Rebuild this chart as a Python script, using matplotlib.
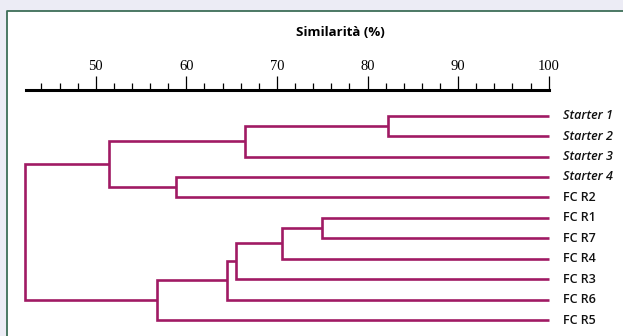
import matplotlib
matplotlib.use('Agg')
import matplotlib.pyplot as plt
from matplotlib.patches import Rectangle
from matplotlib.lines import Line2D
from matplotlib.ticker import MultipleLocator

# ── data ────────────────────────────────────────────────────────────────
leaves = ['Starter 1', 'Starter 2', 'Starter 3', 'Starter 4', 'FC R2',
          'FC R1', 'FC R7', 'FC R4', 'FC R3', 'FC R6', 'FC R5']
italic = [True, True, True, True, False, False, False, False, False, False, False]
# merges: node ids 0-10 are leaves, each merge creates node 11, 12, ...
merge_a = [0, 11, 3, 12, 5, 15, 16, 17, 18, 14]
merge_b = [1, 2, 4, 13, 6, 7, 8, 9, 10, 19]
merge_sim = [82.3, 66.5, 58.9, 51.5, 75.0, 70.6, 65.5, 64.5, 56.8, 42.3]
scale_min, scale_max = 42.3, 100

W, H = 623, 336
BG = '#ECECF5'
PANEL_EC = '#3E6E58'
LINE = '#A01A64'

fig = plt.figure(figsize=(W / 100, H / 100), dpi=100)
fig.patch.set_facecolor(BG)

# white panel, border only on top and left (it runs off right/bottom edge)
px0, py0 = 6.7 / W, (H - 10.7) / H
fig.patches.append(Rectangle((px0, -0.1), 1.2, py0 + 0.1,
                             transform=fig.transFigure, facecolor='white',
                             edgecolor='none', zorder=-5))
fig.lines.append(Line2D([px0, px0, 1.1], [-0.1, py0, py0],
                        transform=fig.transFigure, color=PANEL_EC,
                        lw=1.3, zorder=-4))

# ── scale bar ───────────────────────────────────────────────────────────
px_per = (548.7 - 95.3) / 50.0
sx = fig.add_axes([26 / W, (H - 90.5) / H, (548.7 - 26) / W, 0.001])
sx.patch.set_alpha(0)
sx.set_xlim(scale_min, scale_max)
sx.set_yticks([])
for s in ['left', 'right', 'bottom']:
    sx.spines[s].set_visible(False)
sx.spines['top'].set_linewidth(2.2)
sx.xaxis.set_ticks_position('top')
sx.xaxis.set_label_position('top')
sx.xaxis.set_major_locator(MultipleLocator(10))
sx.xaxis.set_minor_locator(MultipleLocator(2))
sx.tick_params(axis='x', which='major', direction='out', length=10, width=0.9,
               pad=2.5, labelsize=10.5)
sx.tick_params(axis='x', which='minor', direction='out', length=5, width=0.9)
for lab in sx.get_xticklabels():
    lab.set_fontfamily('Liberation Serif')
sx.set_xlabel('Similarità (%)', fontsize=9.5, fontweight='bold',
              family=['Open Sans', 'DejaVu Sans'], labelpad=17)
sx.xaxis.label.set_x((340.5 - 26) / (548.7 - 26))

# ── dendrogram ──────────────────────────────────────────────────────────
ax = fig.add_axes([0, 0, 1, 1])
ax.patch.set_alpha(0)
ax.axis('off')
ax.set_xlim(50 - 95.3 / px_per, 50 + (W - 95.3) / px_per)
step = (320.0 - 115.7) / 10
ax.set_ylim(10 + (H - 320.0) / step, -115.7 / step)

pos = {i: float(i) for i in range(len(leaves))}
hgt = {i: 100.0 for i in range(len(leaves))}
for k, (a, b, s) in enumerate(zip(merge_a, merge_b, merge_sim)):
    node = len(leaves) + k
    ax.plot([hgt[a], s, s, hgt[b]], [pos[a], pos[a], pos[b], pos[b]],
            color=LINE, lw=1.9, solid_joinstyle='miter', solid_capstyle='butt')
    pos[node] = (pos[a] + pos[b]) / 2
    hgt[node] = s

for i, name in enumerate(leaves):
    ax.annotate(name, (100, i), xytext=(10, 0), textcoords='offset points',
                ha='left', va='center', fontsize=9,
                family=['Open Sans', 'DejaVu Sans'], fontweight='semibold',
                style='italic' if italic[i] else 'normal', color='#111111')

fig.savefig('out.png', dpi=100, facecolor=BG)
